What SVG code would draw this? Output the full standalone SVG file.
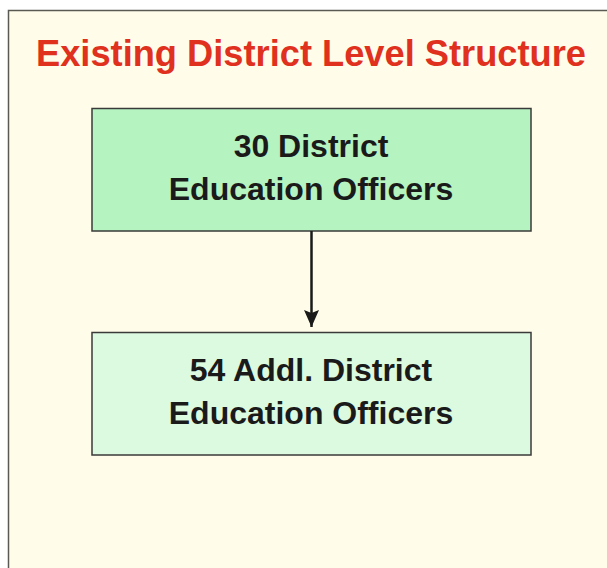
<svg xmlns="http://www.w3.org/2000/svg" width="607" height="568" viewBox="0 0 607 568">
<defs>
<style>
.box{stroke:#3a3a3a;stroke-width:1.5}
.lbl{font-family:"Liberation Sans",Arial,sans-serif;font-weight:bold;font-size:32px;fill:#1a1a1a;text-anchor:middle}
.title{font-family:"Liberation Sans",Arial,sans-serif;font-weight:bold;font-size:36px;fill:#e0301e;text-anchor:middle}
</style>
<marker id="ah" viewBox="0 0 17 15" refX="17" refY="7.5" markerWidth="17" markerHeight="15" orient="auto" markerUnits="userSpaceOnUse">
<path d="M0,0 L17,7.5 L0,15 L3,7.5 z" fill="#1a1a1a"/>
</marker>
</defs>
<rect x="0" y="0" width="607" height="568" fill="#ffffff"/>
<rect x="8.5" y="10.5" width="610" height="570" fill="#fffde9" stroke="#5a5a52" stroke-width="1.5"/>
<text class="title" x="311" y="66" textLength="550" lengthAdjust="spacingAndGlyphs">Existing District Level Structure</text>
<g id="node1">
<rect class="box" x="92" y="108.5" width="439" height="122.5" fill="#b5f3c0"/>
<text class="lbl" x="311" y="157">30 District</text>
<text class="lbl" x="311" y="200">Education Officers</text>
</g>
<g id="node2">
<rect class="box" x="92" y="332.5" width="439" height="122.5" fill="#dcfae0"/>
<text class="lbl" x="311" y="381">54 Addl. District</text>
<text class="lbl" x="311" y="424">Education Officers</text>
</g>
<g id="connectors">
<line x1="311.5" y1="231" x2="311.5" y2="327" stroke="#1a1a1a" stroke-width="2.5" marker-end="url(#ah)"/>
</g>
</svg>
